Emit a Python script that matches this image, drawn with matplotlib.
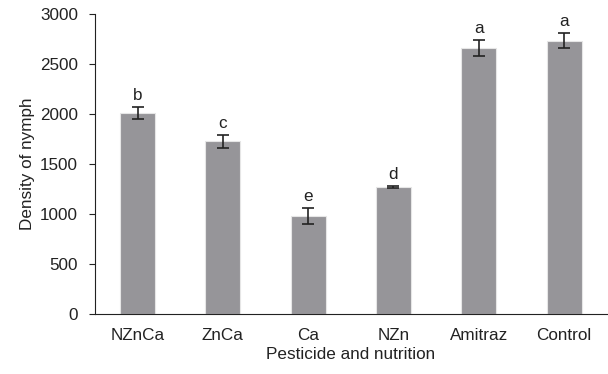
import matplotlib
matplotlib.use("Agg")
import matplotlib.pyplot as plt

categories = ["NZnCa", "ZnCa", "Ca", "NZn", "Amitraz", "Control"]
values = [2010, 1728, 980, 1275, 2660, 2733]
errors = [60, 65, 78, 10, 78, 77]
letters = ["b", "c", "e", "d", "a", "a"]

plt.rcParams['font.family'] = ['Liberation Sans', 'DejaVu Sans']
fig = plt.figure(figsize=(6.08, 3.74), dpi=100)
ax = fig.add_axes([0.156, 0.160, 0.842, 0.803])

fs = 12.3
x = list(range(len(categories)))
ax.bar(x, values, width=0.41, color="#969599", edgecolor="#e6e6e6", linewidth=0.8,
       yerr=errors, error_kw=dict(ecolor="#222222", elinewidth=1.2, capsize=4, capthick=1.2))
for xi, v, e, l in zip(x, values, errors, letters):
    ax.text(xi, v + e + 40, l, ha="center", va="bottom", fontsize=fs, color="#222222")

ax.set_xlim(-0.5, len(categories) - 0.5)
ax.set_ylim(0, 3000)
ax.set_yticks([0, 500, 1000, 1500, 2000, 2500, 3000])
ax.set_xticks(x)
ax.set_xticklabels(categories)
ax.tick_params(axis="x", length=0, pad=10, labelsize=fs, colors="#222222")
ax.tick_params(axis="y", length=4, direction="out", labelsize=fs, colors="#222222", pad=8)
for s in ["top", "right"]:
    ax.spines[s].set_visible(False)
ax.spines["left"].set_color("#222222")
ax.spines["bottom"].set_color("#222222")
ax.set_xlabel("Pesticide and nutrition", fontsize=fs, color="#222222", labelpad=3)
ax.set_ylabel("Density of nymph", fontsize=fs, color="#222222", labelpad=4)

fig.savefig("out.png", dpi=100)
